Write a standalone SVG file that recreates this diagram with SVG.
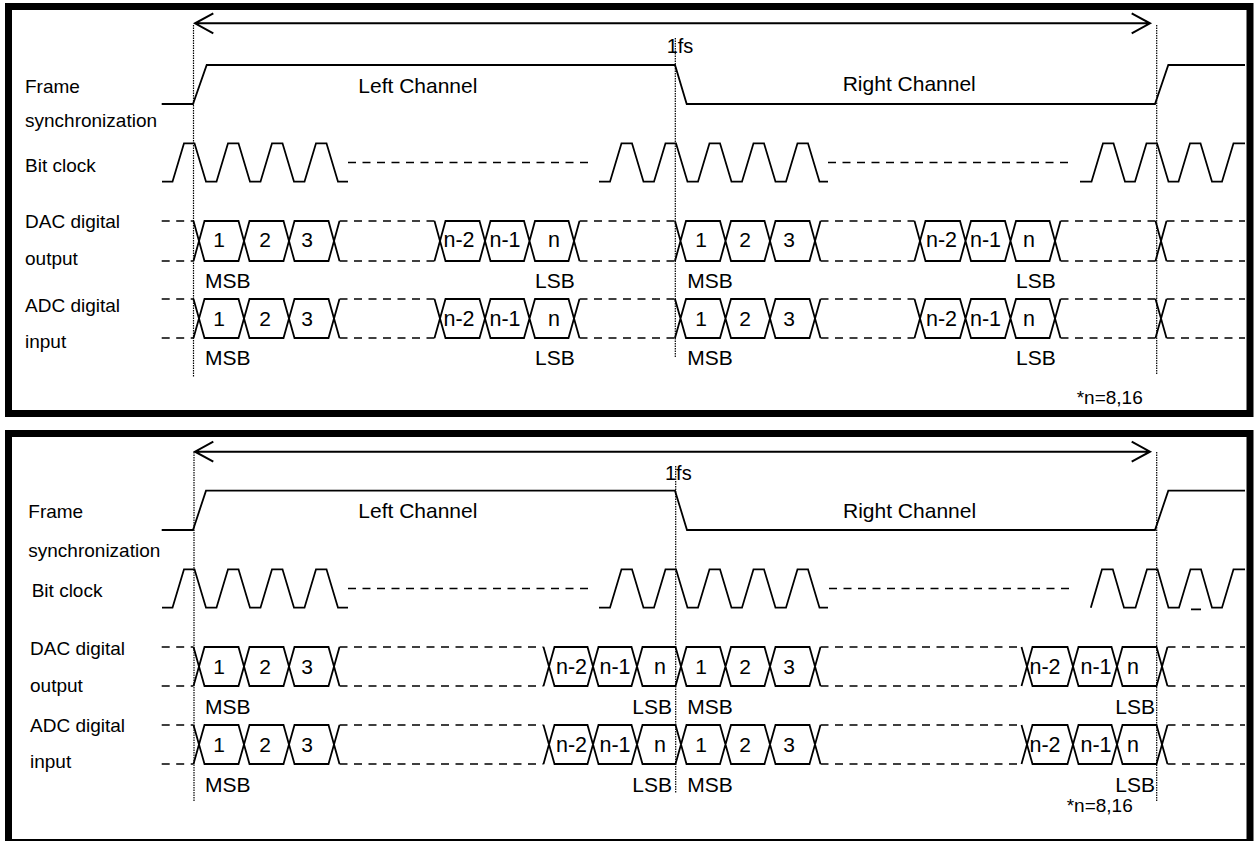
<svg xmlns="http://www.w3.org/2000/svg" width="1258" height="841" viewBox="0 0 1258 841">
<style>
.w{fill:none;stroke:#000;stroke-width:1.8;stroke-linejoin:miter}
.d{fill:none;stroke:#000;stroke-width:1.5;stroke-dasharray:8 6.5}
.dot{fill:none;stroke:#000;stroke-width:1.2;stroke-dasharray:1.5 1}
.ar{fill:none;stroke:#000;stroke-width:2}
.frame{fill:none;stroke:#000;stroke-width:7}
text{font-family:"Liberation Sans",Arial,sans-serif;fill:#000}
.lb{font-size:19px}
.ch{font-size:21px}
.dg{font-size:21px;text-anchor:middle}
.nn{font-size:21.5px}
.nm{font-size:21.5px;text-anchor:middle}
.sb{font-size:21px}
.sbe{font-size:21px;text-anchor:end}
.fs{font-size:20px}
.nt{font-size:19px}
</style>
<rect width="1258" height="841" fill="#fff"/>

<!-- ================= TOP PANEL ================= -->
<g id="panel-top">
<rect class="frame" x="8.5" y="6.5" width="1241.5" height="407"/>
<g id="labels-top">
<text class="lb" x="25" y="93.3">Frame</text>
<text class="lb" x="25" y="126.5">synchronization</text>
<text class="lb" x="25" y="171.5">Bit clock</text>
<text class="lb" x="25" y="228.3">DAC digital</text>
<text class="lb" x="25" y="265">output</text>
<text class="lb" x="25" y="311.7">ADC digital</text>
<text class="lb" x="25" y="348.3">input</text>
<text class="ch" x="358.3" y="93">Left Channel</text>
<text class="ch" x="842.7" y="90.5">Right Channel</text>
<text class="fs" x="666.7" y="53.3">1fs</text>
<text class="nt" x="1076.7" y="404">*n=8,16</text>
</g>
<g id="connectors-top">
<path class="dot" d="M193.5,25 V377 M675.3,38 V357 M1156.7,25 V375"/>
<path class="ar" d="M195,23.3 H1150 M213.3,13.3 L195,23.3 L213.3,33.3 M1131.7,13.3 L1150,23.3 L1131.7,33.3"/>
</g>
<g id="fsync-top" transform="translate(0,65)">
<path class="w" d="M161.7,39 H193 L206.7,0 H675 L686.7,39 H1155 L1168.3,0 H1245"/>
</g>
<g id="bclk-top" transform="translate(0,143.3)">
<path class="w" d="M162,38.4 H172.5 L184,0 H194.5 L206,38.4 H216.5 L228,0 H238.5 L250,38.4 H260.5 L272,0 H282.5 L294,38.4 H304.5 L316,0 H326.5 L338,38.4 H348"/>
<path class="w" d="M599,38.4 H610 L621.5,0 H632 L643.5,38.4 H654 L665.5,0 H676 L687.5,38.4 H698 L709.5,0 H720 L731.5,38.4 H742 L753.5,0 H764 L775.5,38.4 H786 L797.5,0 H808 L819.5,38.4 H828"/>
<path class="w" d="M1080,38.4 H1091.5 L1103,0 H1113.5 L1125,38.4 H1135 L1146.5,0 H1157 L1168.5,38.4 H1178.5 L1190,0 H1200.5 L1212,38.4 H1222 L1233.5,0 H1245"/>
<path class="d" d="M348,19.2 H592 M828,19.2 H1073"/>
</g>
<g id="dac-top" transform="translate(0,221)">
<path class="w" d="M193.5,0 L204.5,40 H238.5 L249.5,0 H283.5 L294.5,40 H328.5 L339.5,0 M193.5,40 L204.5,0 H238.5 L249.5,40 H283.5 L294.5,0 H328.5 L339.5,40"/>
<path class="w" d="M434.5,0 L445.5,40 H479.5 L490.5,0 H524 L535,40 H568.5 L579.5,0 M434.5,40 L445.5,0 H479.5 L490.5,40 H524 L535,0 H568.5 L579.5,40"/>
<path class="w" d="M675,0 L686,40 H720 L731,0 H764.5 L775.5,40 H809.5 L820.5,0 M675,40 L686,0 H720 L731,40 H764.5 L775.5,0 H809.5 L820.5,40"/>
<path class="w" d="M914.5,0 L925.5,40 H960 L971,0 H1005 L1016,40 H1049.5 L1060.5,0 M914.5,40 L925.5,0 H960 L971,40 H1005 L1016,0 H1049.5 L1060.5,40"/>
<path class="w" d="M1155.5,0 L1166.5,40 M1155.5,40 L1166.5,0"/>
<path class="d" d="M161.7,0 H193.5 M339.5,0 H434.5 M579.5,0 H675 M820.5,0 H914.5 M1060.5,0 H1155.5 M1166.5,0 H1245 M161.7,40 H193.5 M339.5,40 H434.5 M579.5,40 H675 M820.5,40 H914.5 M1060.5,40 H1155.5 M1166.5,40 H1245"/>
<text class="dg" x="219" y="26">1</text>
<text class="dg" x="265" y="26">2</text>
<text class="dg" x="307" y="26">3</text>
<text class="nn" x="443.5" y="26">n-2</text>
<text class="nn" x="489.5" y="26">n-1</text>
<text class="nm" x="554" y="26">n</text>
<text class="dg" x="701" y="26">1</text>
<text class="dg" x="745" y="26">2</text>
<text class="dg" x="789" y="26">3</text>
<text class="nn" x="926" y="26">n-2</text>
<text class="nn" x="970" y="26">n-1</text>
<text class="nm" x="1029" y="26">n</text>
</g>
<g id="dac-top-marks">
<text class="sb" x="205" y="287.5">MSB</text>
<text class="sb" x="535" y="287.5">LSB</text>
<text class="sb" x="687.3" y="287.5">MSB</text>
<text class="sb" x="1016" y="287.5">LSB</text>
</g>
<g id="adc-top" transform="translate(0,299)">
<path class="w" d="M193.5,0 L204.5,39 H238.5 L249.5,0 H283.5 L294.5,39 H328.5 L339.5,0 M193.5,39 L204.5,0 H238.5 L249.5,39 H283.5 L294.5,0 H328.5 L339.5,39"/>
<path class="w" d="M434.5,0 L445.5,39 H479.5 L490.5,0 H524 L535,39 H568.5 L579.5,0 M434.5,39 L445.5,0 H479.5 L490.5,39 H524 L535,0 H568.5 L579.5,39"/>
<path class="w" d="M675,0 L686,39 H720 L731,0 H764.5 L775.5,39 H809.5 L820.5,0 M675,39 L686,0 H720 L731,39 H764.5 L775.5,0 H809.5 L820.5,39"/>
<path class="w" d="M914.5,0 L925.5,39 H960 L971,0 H1005 L1016,39 H1049.5 L1060.5,0 M914.5,39 L925.5,0 H960 L971,39 H1005 L1016,0 H1049.5 L1060.5,39"/>
<path class="w" d="M1155.5,0 L1166.5,39 M1155.5,39 L1166.5,0"/>
<path class="d" d="M161.7,0 H193.5 M339.5,0 H434.5 M579.5,0 H675 M820.5,0 H914.5 M1060.5,0 H1155.5 M1166.5,0 H1245 M161.7,39 H193.5 M339.5,39 H434.5 M579.5,39 H675 M820.5,39 H914.5 M1060.5,39 H1155.5 M1166.5,39 H1245"/>
<text class="dg" x="219" y="27">1</text>
<text class="dg" x="265" y="27">2</text>
<text class="dg" x="307" y="27">3</text>
<text class="nn" x="443.5" y="27">n-2</text>
<text class="nn" x="489.5" y="27">n-1</text>
<text class="nm" x="554" y="27">n</text>
<text class="dg" x="701" y="27">1</text>
<text class="dg" x="745" y="27">2</text>
<text class="dg" x="789" y="27">3</text>
<text class="nn" x="926" y="27">n-2</text>
<text class="nn" x="970" y="27">n-1</text>
<text class="nm" x="1029" y="27">n</text>
</g>
<g id="adc-top-marks">
<text class="sb" x="205" y="365">MSB</text>
<text class="sb" x="535" y="365">LSB</text>
<text class="sb" x="687.3" y="365">MSB</text>
<text class="sb" x="1016" y="365">LSB</text>
</g>
</g>

<!-- ================= BOTTOM PANEL ================= -->
<g id="panel-bottom">
<rect class="frame" x="8.5" y="433.5" width="1241.5" height="409"/>
<g id="labels-bottom">
<text class="lb" x="28.3" y="518.3">Frame</text>
<text class="lb" x="28.3" y="556.7">synchronization</text>
<text class="lb" x="31.7" y="596.7">Bit clock</text>
<text class="lb" x="30" y="655">DAC digital</text>
<text class="lb" x="30" y="691.7">output</text>
<text class="lb" x="30" y="731.7">ADC digital</text>
<text class="lb" x="30" y="768.3">input</text>
<text class="ch" x="358.3" y="518.3">Left Channel</text>
<text class="ch" x="843" y="518.3">Right Channel</text>
<text class="fs" x="665" y="480">1fs</text>
<text class="nt" x="1066.7" y="811.7">*n=8,16</text>
</g>
<g id="connectors-bottom">
<path class="dot" d="M194,452 V802 M675.7,466 V793 M1156.7,452 V802"/>
<path class="ar" d="M195,451.7 H1150 M213.3,441.7 L195,451.7 L213.3,461.7 M1131.7,441.7 L1150,451.7 L1131.7,461.7"/>
</g>
<g id="fsync-bottom" transform="translate(0,490.7)">
<path class="w" d="M161.7,39.3 H193 L206,0 H675 L687,39.3 H1155 L1168.3,0 H1245"/>
</g>
<g id="bclk-bottom" transform="translate(0,569.3)">
<path class="w" d="M162,38.4 H172.5 L184,0 H194.5 L206,38.4 H216.5 L228,0 H238.5 L250,38.4 H260.5 L272,0 H282.5 L294,38.4 H304.5 L316,0 H326.5 L338,38.4 H348"/>
<path class="w" d="M599,38.4 H610 L621.5,0 H632 L643.5,38.4 H654 L665.5,0 H676 L687.5,38.4 H698 L709.5,0 H720 L731.5,38.4 H742 L753.5,0 H764 L775.5,38.4 H786 L797.5,0 H808 L819.5,38.4 H828"/>
<path class="w" d="M1090.8,38.4 L1102,0 H1112.8 L1124,38.4 H1135.5 L1147,0 H1157.5 L1168.5,38.4 H1179 L1190.5,0 H1201 L1212,38.4 H1222 L1233.5,0 H1245 M1191,40 H1201"/>
<path class="d" d="M348,19.2 H592 M829,19.2 H1073"/>
</g>
<g id="dac-bottom" transform="translate(0,647)">
<path class="w" d="M193.5,0 L204.5,39 H238.5 L249.5,0 H283.5 L294.5,39 H328.5 L339.5,0 M193.5,39 L204.5,0 H238.5 L249.5,39 H283.5 L294.5,0 H328.5 L339.5,39"/>
<path class="w" d="M543.5,0 L554.5,39 H587.5 L598.5,0 H631.5 L642.5,39 H675.5 L686.5,0 H720 L731,39 H764.5 L775.5,0 H809.5 L820.5,39 M543.5,39 L554.5,0 H587.5 L598.5,39 H631.5 L642.5,0 H675.5 L686.5,39 H720 L731,0 H764.5 L775.5,39 H809.5 L820.5,0"/>
<path class="w" d="M1021.5,0 L1032.5,39 H1067.5 L1078.5,0 H1111.5 L1122.5,39 H1156.5 L1167.5,0 M1021.5,39 L1032.5,0 H1067.5 L1078.5,39 H1111.5 L1122.5,0 H1156.5 L1167.5,39"/>
<path class="d" d="M161.7,0 H193.5 M339.5,0 H543.5 M820.5,0 H1021.5 M1167.5,0 H1245 M161.7,39 H193.5 M339.5,39 H543.5 M820.5,39 H1021.5 M1167.5,39 H1245"/>
<text class="dg" x="219" y="27">1</text>
<text class="dg" x="265" y="27">2</text>
<text class="dg" x="307" y="27">3</text>
<text class="nm" x="571.5" y="27">n-2</text>
<text class="nm" x="615" y="27">n-1</text>
<text class="nm" x="660" y="27">n</text>
<text class="dg" x="701" y="27">1</text>
<text class="dg" x="745" y="27">2</text>
<text class="dg" x="789" y="27">3</text>
<text class="nm" x="1045" y="27">n-2</text>
<text class="nm" x="1096" y="27">n-1</text>
<text class="nm" x="1133" y="27">n</text>
</g>
<g id="dac-bottom-marks">
<text class="sb" x="205" y="714">MSB</text>
<text class="sbe" x="672" y="714">LSB</text>
<text class="sb" x="687.3" y="714">MSB</text>
<text class="sbe" x="1155" y="714">LSB</text>
</g>
<g id="adc-bottom" transform="translate(0,725)">
<path class="w" d="M193.5,0 L204.5,39 H238.5 L249.5,0 H283.5 L294.5,39 H328.5 L339.5,0 M193.5,39 L204.5,0 H238.5 L249.5,39 H283.5 L294.5,0 H328.5 L339.5,39"/>
<path class="w" d="M543.5,0 L554.5,39 H587.5 L598.5,0 H631.5 L642.5,39 H675.5 L686.5,0 H720 L731,39 H764.5 L775.5,0 H809.5 L820.5,39 M543.5,39 L554.5,0 H587.5 L598.5,39 H631.5 L642.5,0 H675.5 L686.5,39 H720 L731,0 H764.5 L775.5,39 H809.5 L820.5,0"/>
<path class="w" d="M1021.5,0 L1032.5,39 H1067.5 L1078.5,0 H1111.5 L1122.5,39 H1156.5 L1167.5,0 M1021.5,39 L1032.5,0 H1067.5 L1078.5,39 H1111.5 L1122.5,0 H1156.5 L1167.5,39"/>
<path class="d" d="M161.7,0 H193.5 M339.5,0 H543.5 M820.5,0 H1021.5 M1167.5,0 H1245 M161.7,39 H193.5 M339.5,39 H543.5 M820.5,39 H1021.5 M1167.5,39 H1245"/>
<text class="dg" x="219" y="27">1</text>
<text class="dg" x="265" y="27">2</text>
<text class="dg" x="307" y="27">3</text>
<text class="nm" x="571.5" y="27">n-2</text>
<text class="nm" x="615" y="27">n-1</text>
<text class="nm" x="660" y="27">n</text>
<text class="dg" x="701" y="27">1</text>
<text class="dg" x="745" y="27">2</text>
<text class="dg" x="789" y="27">3</text>
<text class="nm" x="1045" y="27">n-2</text>
<text class="nm" x="1096" y="27">n-1</text>
<text class="nm" x="1133" y="27">n</text>
</g>
<g id="adc-bottom-marks">
<text class="sb" x="205" y="792">MSB</text>
<text class="sbe" x="672" y="792">LSB</text>
<text class="sb" x="687.3" y="792">MSB</text>
<text class="sbe" x="1155" y="792">LSB</text>
</g>
</g>
</svg>
